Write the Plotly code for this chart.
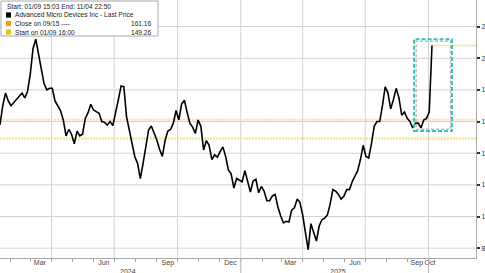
import pandas as pd
import plotly.graph_objects as go

# ---------------- data ----------------
dates = pd.date_range("2024-01-17", periods=158, freq="4D")
prices = [
    158, 170, 178, 173, 170, 172, 174, 176, 178, 175, 179, 190, 206, 212, 203, 194,
    184, 180, 181, 181, 173, 170, 167, 161, 151, 155, 152, 146, 154, 151, 152, 162,
    165.6, 170.9, 167.3, 166.3, 165.2, 160, 159.5, 157.8, 160, 157.4, 164.8, 173.6,
    182.5, 182, 163, 154.7, 144.1, 137.8, 133.6, 124, 133.6, 143, 154.7, 157.2, 153,
    148.4, 142.5,
    138, 148, 154, 155, 159, 167, 161, 171, 173.5, 166, 159, 156.5, 152.5, 161, 157,
    142, 148, 145, 136, 139, 137.5, 141, 144, 138, 129.5, 127, 118, 124, 123, 122,
    129, 122, 115.5, 122.5, 123.5, 115, 119, 116, 110, 110, 113, 114, 106, 100.5, 96,
    97, 96.5, 104, 105.5, 111, 109, 101, 90, 79, 95.5, 90, 84.5, 94,
    98, 99, 101, 108, 117, 116, 114, 111, 113, 117, 117, 122, 126, 129, 136, 145, 138,
    137, 146, 157, 160, 160, 170, 182, 178, 168, 174, 181, 175, 164,
    166, 162, 160, 156, 159, 159, 156, 161, 162, 166, 208,
]
close_0915 = 161.16
start_0109 = 149.26
last_price = prices[-1]

x_range = ["2024-01-17", "2025-12-09"]
y_range = [73.8, 236.8]
y_ticks = [80, 100, 120, 140, 160, 180, 200, 220]
month_label_dates = ["2024-03-15", "2024-06-16", "2024-09-17", "2024-12-17",
                     "2025-03-14", "2025-06-16", "2025-09-14", "2025-10-03"]
month_labels = ["Mar", "Jun", "Sep", "Dec", "Mar", "Jun", "Sep", "Oct"]
month_starts = [d.strftime("%Y-%m-%d") for d in pd.date_range("2024-02-01", "2025-10-01", freq="MS")]
quarter_lines = ["2024-04-01", "2024-07-01", "2024-10-01", "2025-01-01",
                 "2025-04-01", "2025-07-01", "2025-10-01"]
year_sep = ["2025-01-01", "2025-10-01"]
year_labels = [("2024-07-21", "2024"), ("2025-05-22", "2025")]
box_outer = dict(x0="2025-09-10", x1="2025-11-04", y0=154.0, y1=212.0)
box_inner = dict(x0="2025-09-13", x1="2025-11-02", y0=155.2, y1=210.8)

W, H = 485, 273
ML, MR, MT, MB = 0, 9, 0, 15
PW, PH = W - ML - MR, H - MT - MB

x_start, x_end = pd.Timestamp(x_range[0]), pd.Timestamp(x_range[1])


def px(x):
    return x / PW


def py(y):
    return 1 - y / PH


def date_frac(d):
    return float((pd.Timestamp(d) - x_start) / (x_end - x_start))


FONT = "Liberation Sans, Arial, sans-serif"
GRID_COLOR = "#d2d2d2"

fig = go.Figure()
fig.add_trace(go.Scatter(x=dates, y=prices, mode="lines",
                         line=dict(color="#000000", width=1.6),
                         hoverinfo="skip", showlegend=False))

shapes = []
# light grid drawn as shapes
for y in y_ticks:
    shapes.append(dict(type="line", xref="paper", yref="y", x0=0, x1=1, y0=y, y1=y,
                       line=dict(color=GRID_COLOR, width=1, dash="solid"), layer="below"))
for q in quarter_lines:
    f = date_frac(q)
    shapes.append(dict(type="line", xref="paper", yref="y", x0=f, x1=f,
                       y0=y_range[0], y1=y_range[1],
                       line=dict(color=GRID_COLOR, width=1, dash="solid"), layer="below"))
for ys in year_sep:
    f = date_frac(ys)
    shapes.append(dict(type="line", xref="paper", yref="paper", x0=f, x1=f, y0=-0.06, y1=0,
                       line=dict(color="#b4b4b4", width=1), layer="above"))
# reference lines
shapes.append(dict(type="line", xref="paper", yref="y", x0=0, x1=1, y0=close_0915, y1=close_0915,
                   line=dict(color="#fbdcbd", width=2, dash="2px,1px"), layer="below"))
shapes.append(dict(type="line", xref="paper", yref="y", x0=0, x1=1, y0=start_0109, y1=start_0109,
                   line=dict(color="#f0e08e", width=2, dash="2px,1px"), layer="below"))
shapes.append(dict(type="line", xref="x", yref="y", x0=dates[-1], x1=x_range[1],
                   y0=last_price, y1=last_price,
                   line=dict(color="#f3e6ac", width=1.5), layer="below"))
# highlight box
shapes.append(dict(type="rect", xref="x", yref="y", **box_inner,
                   line=dict(color="#bcbcbc", width=1.5, dash="3px,2px")))
shapes.append(dict(type="rect", xref="x", yref="y", **box_outer,
                   line=dict(color="#35c4b2", width=2, dash="4px,2px")))
# legend box
shapes.append(dict(type="rect", xref="paper", yref="paper", x0=px(1), x1=px(158),
                   y0=py(36), y1=py(1), fillcolor="white",
                   line=dict(color="#a8a8a8", width=1), layer="above"))
sq = [("#000000", 15), ("#f39a1e", 23.5), ("#e8c41a", 32)]
for col, cy in sq:
    shapes.append(dict(type="rect", xref="paper", yref="paper", x0=px(6), x1=px(11),
                       y0=py(cy + 2.6), y1=py(cy - 2.6), fillcolor=col,
                       line=dict(width=0), layer="above"))

font_small = dict(family=FONT, size=6.6, color="#222222")
annotations = []
legend_lines = [
    (5, 6, "Start: 01/09 15:03 End: 11/04 22:50", None),
    (12.7, 15, "Advanced Micro Devices Inc - Last Price", None),
    (12.7, 23.5, "Close on 09/15 ----", f"{close_0915:.2f}"),
    (12.7, 32, "Start on 01/09 16:00", f"{start_0109:.2f}"),
]
for x0, y0, txt, val in legend_lines:
    annotations.append(dict(xref="paper", yref="paper", x=px(x0), y=py(y0), text=txt,
                            showarrow=False, xanchor="left", yanchor="middle", font=font_small))
    if val:
        annotations.append(dict(xref="paper", yref="paper", x=px(154), y=py(y0), text=val,
                                showarrow=False, xanchor="right", yanchor="middle", font=font_small))
for d, t in year_labels:
    annotations.append(dict(xref="x", yref="paper", x=d, y=-13.5 / PH, text=t, showarrow=False,
                            xanchor="center", yanchor="middle",
                            font=dict(family=FONT, size=7, color="#444444")))

fig.update_layout(
    width=W, height=H,
    margin=dict(l=ML, r=MR, t=MT, b=MB, pad=0),
    paper_bgcolor="white", plot_bgcolor="white",
    shapes=shapes, annotations=annotations,
    xaxis=dict(type="date", range=x_range, showgrid=False, zeroline=False, automargin=False,
               tickmode="array", tickvals=month_label_dates, ticktext=month_labels,
               ticks="", ticklen=0, tickangle=0, ticklabelstandoff=-2,
               tickfont=dict(family=FONT, size=7, color="#444444"),
               showline=True, linecolor="#a8a8a8", linewidth=1,
               minor=dict(tickmode="array", tickvals=month_starts, ticks="outside",
                          ticklen=3, tickcolor="#a8a8a8", showgrid=False)),
    yaxis=dict(side="right", range=y_range, tickmode="array", tickvals=y_ticks,
               automargin=False, showgrid=False,
               zeroline=False, ticks="outside", ticklen=3, tickwidth=2, tickcolor="#333333",
               tickfont=dict(family=FONT, size=7, color="#333333"),
               showline=True, linecolor="#a8a8a8", linewidth=1),
)

fig.write_html("out.html")
